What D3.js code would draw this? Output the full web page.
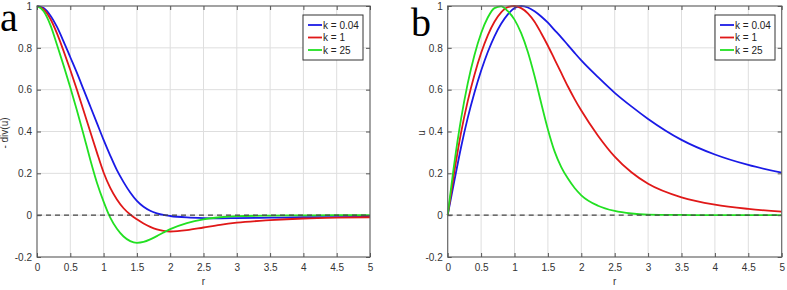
<!DOCTYPE html>
<html>
<head>
<meta charset="utf-8">
<script src="https://cdn.jsdelivr.net/npm/d3@7/dist/d3.min.js"></script>
<style>
  body { margin: 0; background: #fff; }
  svg { display: block; font-family: "Liberation Sans", Arial, sans-serif; }
</style>
</head>
<body>
<svg id="chart" width="787" height="290"></svg>
<script>
  const radius = [0, 0.1, 0.2, 0.3, 0.4, 0.5, 0.6, 0.7, 0.8, 0.9, 1.0, 1.1, 1.2, 1.3, 1.4, 1.5,
    1.6, 1.7, 1.8, 1.9, 2.0, 2.25, 2.5, 2.75, 3, 3.5, 4, 4.5, 5];

  // panel a: - div(u)
  const divK004 = [1, 0.99, 0.955, 0.9, 0.83, 0.755, 0.68, 0.6, 0.52, 0.44, 0.36, 0.285, 0.215,
    0.158, 0.108, 0.068, 0.04, 0.021, 0.009, 0.001, -0.004, -0.011, -0.014, -0.015, -0.014, -0.012,
    -0.01, -0.009, -0.008];
  const divK1 = [1, 0.984, 0.939, 0.869, 0.784, 0.694, 0.599, 0.499, 0.399, 0.299, 0.204, 0.13,
    0.075, 0.033, 0.003, -0.02, -0.04, -0.056, -0.068, -0.075, -0.078, -0.072, -0.059, -0.046,
    -0.036, -0.024, -0.016, -0.012, -0.01];
  const divK25 = [1, 0.975, 0.91, 0.815, 0.715, 0.61, 0.5, 0.385, 0.265, 0.155, 0.065, -0.012,
    -0.065, -0.102, -0.124, -0.132, -0.128, -0.116, -0.1, -0.083, -0.067, -0.038, -0.02, -0.01,
    -0.005, -0.002, -0.001, 0, 0];

  // panel b: u
  const uK004 = [0, 0.165, 0.325, 0.465, 0.585, 0.69, 0.78, 0.855, 0.915, 0.96, 0.99, 1.0, 0.993,
    0.975, 0.95, 0.92, 0.885, 0.85, 0.813, 0.776, 0.74, 0.66, 0.585, 0.52, 0.46, 0.36, 0.29, 0.24,
    0.203];
  const uK1 = [0, 0.21, 0.395, 0.545, 0.67, 0.775, 0.86, 0.925, 0.97, 0.995, 1.0, 0.99, 0.965,
    0.925, 0.87, 0.81, 0.745, 0.68, 0.615, 0.555, 0.5, 0.38, 0.28, 0.205, 0.15, 0.085, 0.05, 0.03,
    0.017];
  const uK25 = [0, 0.25, 0.46, 0.63, 0.765, 0.87, 0.945, 0.99, 0.998, 0.975, 0.935, 0.87, 0.78,
    0.665, 0.535, 0.41, 0.305, 0.23, 0.175, 0.13, 0.095, 0.045, 0.02, 0.008, 0.003, 0.001, 0, 0, 0];

  const seriesLabels = ['k = 0.04', 'k = 1', 'k = 25'];
  const seriesColors = ['#1a1ae6', '#e01818', '#22e022'];
  const xTicks = [0, 0.5, 1, 1.5, 2, 2.5, 3, 3.5, 4, 4.5, 5];
  const yTicks = [-0.2, 0, 0.2, 0.4, 0.6, 0.8, 1];

  const svg = d3.select('#chart');

  const drawPanel = ({ left, right, series, yLabel, yLabelX, letter, letterX, letterY, legendX }) => {
    const top = 6;
    const bottom = 257;

    const xScale = d3.scaleLinear().domain([0, 5]).range([left, right]);
    const yScale = d3.scaleLinear().domain([-0.2, 1]).range([bottom, top]);

    const panel = svg.append('g');

    // grid
    const grid = panel.append('g')
      .attr('stroke', '#dedede')
      .attr('stroke-width', 1);

    grid.selectAll('line.gx')
      .data(xTicks.slice(1, -1))
      .join('line')
      .attr('class', 'gx')
      .attr('x1', (d) => xScale(d))
      .attr('x2', (d) => xScale(d))
      .attr('y1', top)
      .attr('y2', bottom);

    grid.selectAll('line.gy')
      .data(yTicks.slice(1, -1))
      .join('line')
      .attr('class', 'gy')
      .attr('x1', left)
      .attr('x2', right)
      .attr('y1', (d) => yScale(d))
      .attr('y2', (d) => yScale(d));

    const lineGenerator = d3.line()
      .curve(d3.curveMonotoneX)
      .x((d, i) => xScale(radius[i]))
      .y((d) => yScale(d));

    series.forEach((values, i) => {
      panel.append('path')
        .datum(values)
        .attr('fill', 'none')
        .attr('stroke', seriesColors[i])
        .attr('stroke-width', 1.8)
        .attr('d', lineGenerator);
    });

    // zero reference line
    panel.append('line')
      .attr('x1', left)
      .attr('x2', right)
      .attr('y1', yScale(0))
      .attr('y2', yScale(0))
      .attr('stroke', '#444')
      .attr('stroke-width', 1.3)
      .attr('stroke-dasharray', '5 4');

    // frame
    panel.append('rect')
      .attr('x', left)
      .attr('y', top)
      .attr('width', right - left)
      .attr('height', bottom - top)
      .attr('fill', 'none')
      .attr('stroke', '#666')
      .attr('stroke-width', 1.2);

    const fmt = (v) => String(v);

    const xAxis = panel.append('g')
      .attr('transform', `translate(0,${bottom})`)
      .call(d3.axisBottom(xScale).tickValues(xTicks).tickFormat(fmt).tickSize(-4).tickPadding(7));
    const yAxis = panel.append('g')
      .attr('transform', `translate(${left},0)`)
      .call(d3.axisLeft(yScale).tickValues(yTicks).tickFormat(fmt).tickSize(-4).tickPadding(5));
    panel.append('g')
      .attr('transform', `translate(0,${top})`)
      .call(d3.axisTop(xScale).tickValues(xTicks).tickFormat('').tickSize(-4));
    panel.append('g')
      .attr('transform', `translate(${right},0)`)
      .call(d3.axisRight(yScale).tickValues(yTicks).tickFormat('').tickSize(-4));

    panel.selectAll('.domain').remove();
    panel.selectAll('.tick line').attr('stroke', '#555');
    [xAxis, yAxis].forEach((axis) => {
      axis.selectAll('text')
        .attr('fill', '#333')
        .style('font-size', '10px');
    });

    panel.append('text')
      .attr('x', (left + right) / 2)
      .attr('y', 285)
      .attr('text-anchor', 'middle')
      .attr('fill', '#333')
      .style('font-size', '10px')
      .text('r');

    panel.append('text')
      .attr('transform', `translate(${yLabelX},133) rotate(-90)`)
      .attr('text-anchor', 'middle')
      .attr('fill', '#333')
      .style('font-size', '10px')
      .text(yLabel);

    panel.append('text')
      .attr('x', letterX)
      .attr('y', letterY)
      .attr('fill', '#000')
      .style('font-family', '"Liberation Serif", "Times New Roman", serif')
      .style('font-size', '40px')
      .text(letter);

    // legend
    const legend = panel.append('g')
      .attr('transform', `translate(${legendX},15)`);

    legend.append('rect')
      .attr('width', 60)
      .attr('height', 45)
      .attr('fill', '#fff')
      .attr('stroke', '#333')
      .attr('stroke-width', 1);

    seriesLabels.forEach((label, i) => {
      const rowY = 10 + i * 12.5;
      legend.append('line')
        .attr('x1', 5)
        .attr('x2', 19)
        .attr('y1', rowY)
        .attr('y2', rowY)
        .attr('stroke', seriesColors[i])
        .attr('stroke-width', 1.8);
      legend.append('text')
        .attr('x', 20)
        .attr('y', rowY + 3.5)
        .attr('fill', '#222')
        .style('font-size', '10px')
        .text(label);
    });
  };

  drawPanel({
    left: 37,
    right: 370,
    series: [divK004, divK1, divK25],
    yLabel: '- div(u)',
    yLabelX: 8,
    letter: 'a',
    letterX: 0,
    letterY: 31,
    legendX: 303,
  });

  drawPanel({
    left: 447.7,
    right: 781.7,
    series: [uK004, uK1, uK25],
    yLabel: 'u',
    yLabelX: 425,
    letter: 'b',
    letterX: 411,
    letterY: 36,
    legendX: 715,
  });
</script>
</body>
</html>
